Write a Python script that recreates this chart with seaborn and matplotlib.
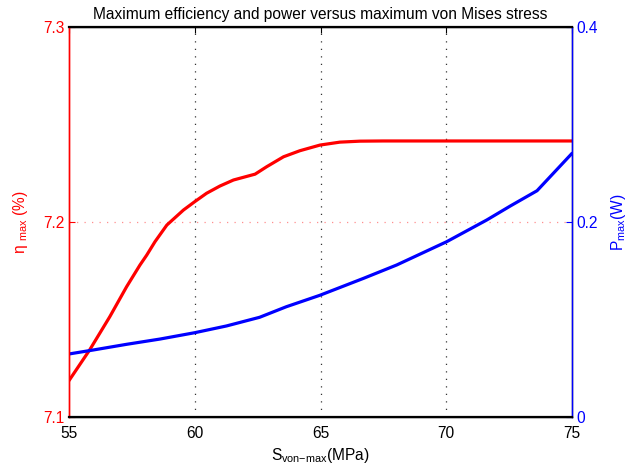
import numpy as np
import pandas as pd
import matplotlib
matplotlib.use("Agg")
import matplotlib.pyplot as plt
import seaborn as sns

# Maximum von Mises stress (MPa) and the resulting efficiency / power
stress_eta = [55.0, 55.82, 56.62, 57.29, 57.82, 58.09, 58.42, 58.89, 59.55, 60.0,
              60.47, 61.0, 61.54, 62.40, 62.86, 63.53, 64.18, 64.98, 65.77, 66.57,
              67.5, 75.0]
eta_max = [7.1188, 7.1345, 7.1515, 7.1669, 7.1780, 7.1831, 7.1900, 7.1985, 7.2062, 7.2105,
           7.2148, 7.2185, 7.2216, 7.2246, 7.2284, 7.2335, 7.2366, 7.2395, 7.2410, 7.2415,
           7.2416, 7.2416]

stress_p = [55.0, 55.97, 57.29, 58.62, 60.0, 61.26, 62.58, 63.64, 64.97,
            66.71, 68.03, 70.02, 71.61, 72.55, 73.61, 75.0]
p_max = [0.0649, 0.0690, 0.0748, 0.0802, 0.0867, 0.0936, 0.1025, 0.1133, 0.1250,
         0.1424, 0.1561, 0.1800, 0.2022, 0.2166, 0.2322, 0.2705]

x_ticks = [55, 60, 65, 70, 75]
eta_ticks = [7.1, 7.2, 7.3]
p_ticks = [0, 0.2, 0.4]

sns.set_style("white")
plt.rcParams["font.family"] = ["Liberation Sans", "DejaVu Sans"]
plt.rcParams["mathtext.default"] = "regular"

df_eta = pd.DataFrame({"stress": stress_eta, "eta": eta_max})
df_p = pd.DataFrame({"stress": stress_p, "p": p_max})

fig = plt.figure(figsize=(6.43, 4.68), dpi=100)
ax = fig.add_axes([69 / 643, 1 - 417.3 / 468, 503 / 643, 390.3 / 468])
ax2 = ax.twinx()

red = "#ff0000"
blue = "#0000ff"

sns.lineplot(data=df_eta, x="stress", y="eta", ax=ax, color=red, lw=2.3,
             sort=False, estimator=None)
sns.lineplot(data=df_p, x="stress", y="p", ax=ax2, color=blue, lw=2.3,
             sort=False, estimator=None)

ax.set_xlim(55, 75)
ax.set_ylim(7.1, 7.3)
ax2.set_ylim(0, 0.4)
ax.set_xticks(x_ticks)
ax.set_yticks(eta_ticks)
ax2.set_yticks(p_ticks)
ax.set_yticklabels(["7.1", "7.2", "7.3"])
ax2.set_yticklabels(["0", "0.2", "0.4"])

# dotted grid: black verticals, red horizontal
for xv in x_ticks[1:-1]:
    ax.axvline(xv, color="#333333", lw=0.9, ls=(0, (1, 5)), zorder=0)
ax.axhline(7.2, color="#ff8f8f", lw=0.9, ls=(0, (1, 5)), zorder=0)

fs = 11.2
ax.tick_params(axis="x", direction="in", length=4, width=0.8, top=True,
               colors="black", labelsize=fs, pad=6)
ax.tick_params(axis="y", direction="in", length=4, width=0.8, colors=red,
               labelsize=fs, pad=3)
ax2.tick_params(axis="y", direction="in", length=4, width=0.8, colors=blue,
                labelsize=fs, pad=3)

for a in (ax, ax2):
    for s in a.spines.values():
        s.set_linewidth(1.0)
ax.spines["top"].set_color("black")
ax.spines["bottom"].set_color("black")
ax.spines["left"].set_color(red)
ax2.spines["top"].set_color("black")
ax2.spines["bottom"].set_color("black")
ax2.spines["left"].set_color(red)
ax2.spines["right"].set_color(blue)
ax2.spines["bottom"].set_linewidth(1.6)
ax2.spines["top"].set_linewidth(1.6)

ax.set_xlabel("S$_{von{\u2212}max}$(MPa)", fontsize=fs, color="black", labelpad=4)
ax.set_ylabel("\u03b7 $_{max}$ (%)", fontsize=fs, color=red, labelpad=10)
ax2.set_ylabel("P$_{max}$(W)", fontsize=fs, color=blue, labelpad=8)
ax.set_title("Maximum efficiency and power versus maximum von Mises stress",
             fontsize=fs, color="black", pad=6)

fig.savefig("out.png", dpi=100)
